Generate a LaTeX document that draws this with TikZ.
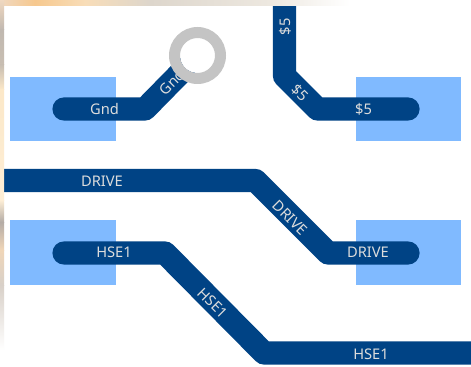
\documentclass[tikz,border=0pt]{standalone}
\usepackage{fontspec}
\setmainfont{Noto Sans}
\definecolor{track}{HTML}{004385}
\definecolor{padblue}{HTML}{80BAFF}
\definecolor{viagrey}{HTML}{C4C4C4}
\definecolor{labelgrey}{HTML}{DCDCDC}
\definecolor{pa}{HTML}{F0D8C0}
\definecolor{pb}{HTML}{F6C88E}
\definecolor{pc}{HTML}{F8DDB8}
\definecolor{pd}{HTML}{DDD6CC}
\definecolor{pe}{HTML}{EDE8E0}
\definecolor{qa}{HTML}{C0B8B0}
\definecolor{qb}{HTML}{C8BEB2}
\definecolor{qc}{HTML}{FCE8C8}
\definecolor{qd}{HTML}{FDEED6}
\definecolor{qe}{HTML}{B4ACA6}
\definecolor{qf}{HTML}{F0D6B8}
\definecolor{qg}{HTML}{D8D0C8}
\tikzset{
  x=0.75pt,y=-0.75pt,
  trace/.style={draw=track,line width=17.4pt,line join=round,line cap=round},
  pad/.style={fill=padblue,draw=none},
  lbl/.style={text=labelgrey,font=\fontsize{11pt}{13pt}\selectfont,inner sep=0pt},
}
\begin{document}
\begin{tikzpicture}
\useasboundingbox (0,0) rectangle (471,367);
\fill[white] (0,0) rectangle (471,367);
% pads
\fill[pad] (10,77) rectangle (116,141);
\fill[pad] (356,77) rectangle (461,141);
\fill[pad] (10,220) rectangle (116,285);
\fill[pad] (356,220) rectangle (461,285);
% named points
\coordinate (g1) at (64,109);
\coordinate (g2) at (145,109);
\coordinate (v) at (197.5,55.5);
\coordinate (f1) at (284.5,0);
\coordinate (f2) at (284.5,76);
\coordinate (f3) at (317.5,109);
\coordinate (f4) at (408,109);
\coordinate (d1) at (-10,180.5);
\coordinate (d2) at (255.5,180.5);
\coordinate (d3) at (328,253);
\coordinate (d4) at (408,253);
\coordinate (h1) at (64,253);
\coordinate (h2) at (165,253);
\coordinate (h3) at (264,353);
\coordinate (h4) at (490,353);
% traces
\draw[trace] (g1) -- (g2) -- (v);
\draw[trace] (f4) -- (f3) -- (f2) -- (f1);
\draw[trace] (d4) -- (d3) -- (d2) -- (d1);
\draw[trace] (h1) -- (h2) -- (h3) -- (h4);
% labels
\node[lbl] (tg) at (104.5,109) {Gnd};
\node[lbl,rotate=45] (tg2) at (172,82) {Gnd};
\node[lbl,rotate=90] (tf1) at (285,27) {\$5};
\node[lbl,rotate=-45] (tf2) at (300,93) {\$5};
\node[lbl] (tf3) at (363.5,109) {\$5};
\node[lbl] (td1) at (102,181) {DRIVE};
\node[lbl,rotate=-45] (td2) at (290,218) {DRIVE};
\node[lbl] (td3) at (368,252.5) {DRIVE};
\node[lbl] (th1) at (114,252.5) {HSE1};
\node[lbl,rotate=-45] (th2) at (213,303) {HSE1};
\node[lbl] (th3) at (371,354) {HSE1};
% via
\fill[white] (v) circle (17.5);
\fill[viagrey,even odd rule] (v) circle (28.5) (v) circle (17.5);
% photo remnants along the top and left edges
\fill[white] (0,0) rectangle (471,6);
\fill[white] (0,0) rectangle (4,367);
\shade[left color=pa,right color=pb] (0,0) rectangle (35,6);
\shade[left color=pb,right color=pc] (35,0) rectangle (85,6);
\shade[left color=pc,right color=pd] (85,0) rectangle (150,6);
\shade[left color=pd,right color=pe] (150,0) rectangle (270,6);
\shade[left color=pe,right color=white] (270,0) rectangle (350,6);
\shade[top color=pa,bottom color=qa] (0,0) rectangle (4,30);
\shade[top color=qa,bottom color=qb] (0,30) rectangle (4,65);
\shade[top color=qb,bottom color=qc] (0,65) rectangle (4,90);
\shade[top color=qc,bottom color=qd] (0,90) rectangle (4,200);
\shade[top color=qd,bottom color=qe] (0,200) rectangle (4,222);
\shade[top color=qe,bottom color=qf] (0,222) rectangle (4,250);
\shade[top color=qf,bottom color=qg] (0,250) rectangle (4,285);
\shade[top color=qg,bottom color=white] (0,285) rectangle (4,350);
\end{tikzpicture}
\end{document}
